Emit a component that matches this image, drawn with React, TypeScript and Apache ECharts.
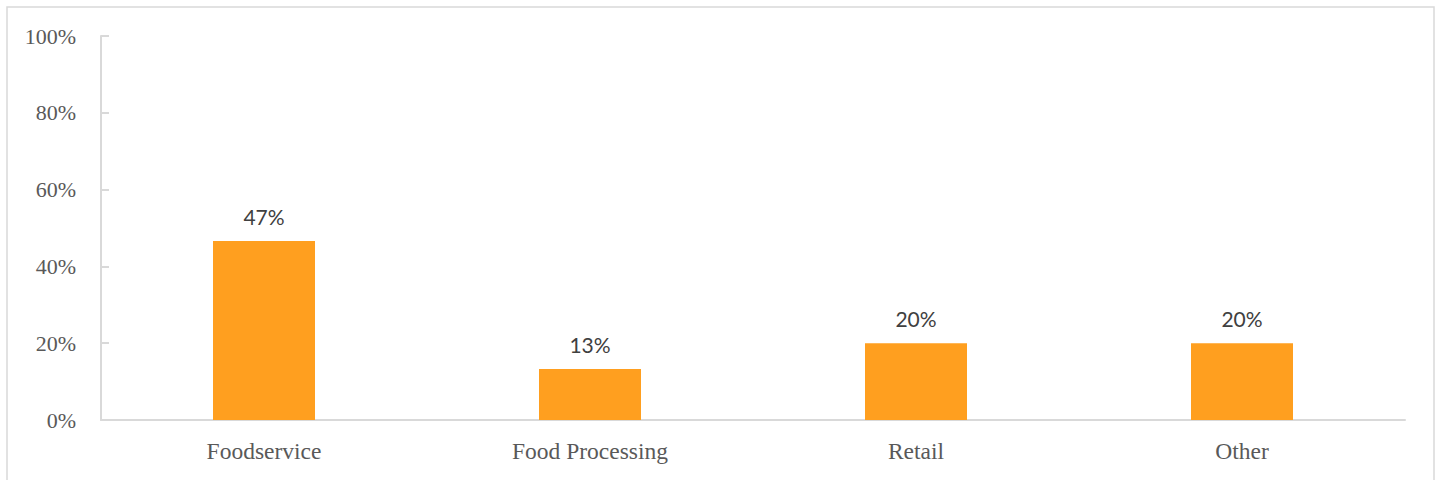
import React, { useEffect, useRef } from "react";
import * as echarts from "echarts";

const categories = ["Foodservice", "Food Processing", "Retail", "Other"];
const shares = [46.6, 13.3, 20.0, 20.0];
const yTicks = [0, 20, 40, 60, 80, 100];

export default function App() {
  const ref = useRef<HTMLDivElement>(null);
  useEffect(() => {
    if (!ref.current) return;
    const chart = echarts.init(ref.current, undefined, { renderer: "svg" });
    chart.setOption({
      animation: false,
      backgroundColor: "#ffffff",
      graphic: [
        {
          type: "rect",
          shape: { x: 7, y: 7, width: 1427, height: 500 },
          style: { fill: "none", stroke: "#D9D9D9", lineWidth: 1.5 },
          silent: true,
        },
      ],
      grid: { left: 101, right: 35, top: 36, bottom: 60 },
      xAxis: {
        type: "category",
        data: categories,
        axisLine: { show: true, lineStyle: { color: "#D9D9D9", width: 2 } },
        axisTick: { show: false },
        axisLabel: {
          color: "#595959",
          fontFamily: "Liberation Serif",
          fontSize: 23.5,
          margin: 19,
        },
      },
      yAxis: {
        type: "value",
        min: yTicks[0],
        max: yTicks[yTicks.length - 1],
        interval: 20,
        axisLine: { show: true, lineStyle: { color: "#D9D9D9", width: 2 } },
        axisTick: { show: true, inside: true, length: 8, lineStyle: { color: "#D9D9D9", width: 2 } },
        splitLine: { show: false },
        axisLabel: {
          color: "#595959",
          fontFamily: "Liberation Serif",
          fontSize: 22,
          margin: 25,
          formatter: (v: number) => `${v}%`,
        },
      },
      series: [
        {
          type: "bar",
          data: shares,
          barWidth: 102,
          itemStyle: { color: "#FF9F1F" },
          label: {
            show: true,
            position: "top",
            distance: 14,
            color: "#404040",
            fontFamily: "Lato",
            fontSize: 21,
            formatter: (p: any) => `${Math.round(p.value)}%`,
          },
        },
      ],
    });
    return () => chart.dispose();
  }, []);
  return (
    <div
      ref={ref}
      style={{ position: "absolute", left: 0, top: 0, width: 1440, height: 480 }}
    />
  );
}
